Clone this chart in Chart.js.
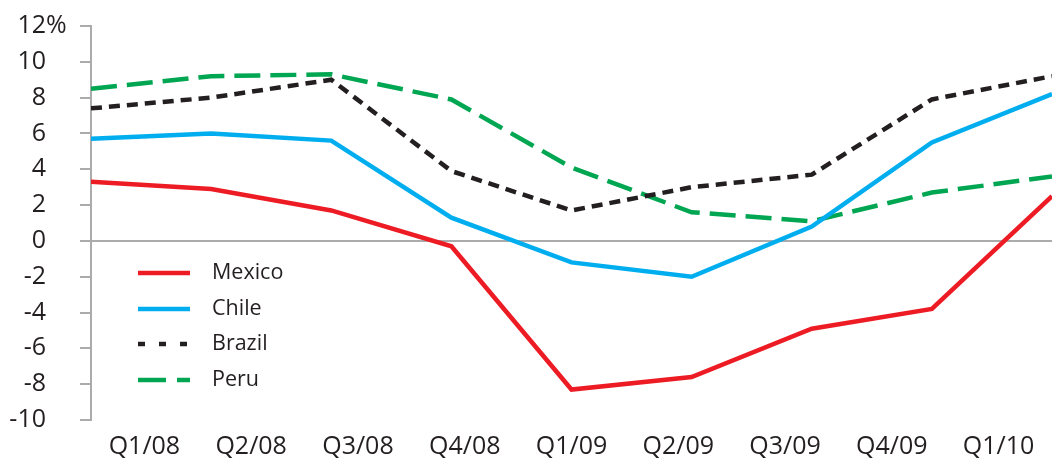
<!DOCTYPE html>
<html>
<head>
<meta charset="utf-8">
<script src="https://cdn.jsdelivr.net/npm/chart.js@4/dist/chart.umd.min.js"></script>
<style>
  html, body { margin: 0; padding: 0; background: #fff; }
  #wrap { width: 1052px; height: 462px; }
</style>
</head>
<body>
<div id="wrap"><canvas id="gdpChart"></canvas></div>
<script>
// quarters on the bottom axis
const quarters = ['Q1/08', 'Q2/08', 'Q3/08', 'Q4/08', 'Q1/09', 'Q2/09', 'Q3/09', 'Q4/09', 'Q1/10'];
// y ticks
const yMin = -10;
const yMax = 12;
const yStep = 2;

// values, % yoy
const mexico = [3.3, 2.9, 1.7, -0.3, -8.3, -7.6, -4.9, -3.8, 2.5];
const chile = [5.7, 6.0, 5.6, 1.3, -1.2, -2.0, 0.8, 5.5, 8.2];
const brazil = [7.4, 8.0, 9.0, 3.9, 1.7, 3.0, 3.7, 7.9, 9.2];
const peru = [8.5, 9.2, 9.3, 7.9, 4.1, 1.6, 1.1, 2.7, 3.6];

const textColor = '#231F20';
const axisGray = '#ABABAB';
const fontFamily = '"Open Sans", "Noto Sans", sans-serif';
const tickSize = 25;

function toPoints(values) {
    return values.map((v, i) => ({ x: i, y: v }));
}

// legend drawn inside the plot, lower left
const insideLegend = {
    id: 'insideLegend',
    afterDatasetsDraw(chart) {
        const ctx = chart.ctx;
        const rows = [273, 309, 344, 380];
        ctx.save();
        chart.data.datasets.forEach((ds, i) => {
            const y = rows[i];
            ctx.beginPath();
            ctx.strokeStyle = ds.borderColor;
            ctx.lineWidth = 4.5;
            ctx.setLineDash(ds.legendDash || []);
            ctx.moveTo(138, y);
            ctx.lineTo(190, y);
            ctx.stroke();
            ctx.setLineDash([]);
            ctx.fillStyle = textColor;
            ctx.font = '21.5px ' + fontFamily;
            ctx.textAlign = 'left';
            ctx.textBaseline = 'middle';
            ctx.fillText(ds.label, 212, y);
        });
        ctx.restore();
    }
};

// "%" sign after the top tick label
const percentSign = {
    id: 'percentSign',
    afterDraw(chart) {
        const ctx = chart.ctx;
        const y = chart.scales.y.getPixelForValue(yMax);
        ctx.save();
        ctx.fillStyle = textColor;
        ctx.font = tickSize + 'px ' + fontFamily;
        ctx.textAlign = 'left';
        ctx.textBaseline = 'middle';
        ctx.fillText('%', 46, y);
        ctx.restore();
    }
};

const ctx = document.getElementById('gdpChart').getContext('2d');
new Chart(ctx, {
    type: 'line',
    data: {
        labels: quarters,
        datasets: [
            { label: 'Mexico', data: toPoints(mexico), borderColor: '#ED1C24', borderWidth: 4.5 },
            { label: 'Chile', data: toPoints(chile), borderColor: '#00AEEF', borderWidth: 4.5 },
            { label: 'Brazil', data: toPoints(brazil), borderColor: '#231F20', borderWidth: 4.5,
              borderDash: [11, 7], legendDash: [7, 14] },
            { label: 'Peru', data: toPoints(peru), borderColor: '#00A651', borderWidth: 4.5,
              borderDash: [26, 10], legendDash: [28, 11] }
        ].map(ds => Object.assign(ds, {
            xAxisID: 'x',
            fill: false,
            tension: 0,
            pointRadius: 0,
            borderCapStyle: 'butt',
            borderJoinStyle: 'miter'
        }))
    },
    options: {
        responsive: true,
        maintainAspectRatio: false,
        animation: false,
        layout: { padding: { top: 26, right: 0, left: 0, bottom: 0 } },
        plugins: {
            legend: { display: false },
            tooltip: { enabled: false }
        },
        scales: {
            x: {
                type: 'linear',
                display: false,
                min: 0,
                max: quarters.length - 1
            },
            x2: {
                type: 'category',
                position: 'bottom',
                offset: true,
                grid: { display: false },
                border: { display: false },
                ticks: {
                    color: textColor,
                    font: { family: fontFamily, size: tickSize },
                    padding: 4,
                    maxRotation: 0,
                    autoSkip: false
                },
                afterFit(scale) {
                    scale.height = 42;
                    scale.paddingLeft = 0;
                    scale.paddingRight = 0;
                }
            },
            y: {
                min: yMin,
                max: yMax,
                ticks: {
                    stepSize: yStep,
                    color: textColor,
                    font: { family: fontFamily, size: tickSize },
                    padding: 34
                },
                grid: {
                    color: c => (c.tick && c.tick.value === 0) ? axisGray : 'rgba(0,0,0,0)',
                    tickColor: axisGray,
                    tickLength: 11,
                    lineWidth: 2
                },
                border: { color: axisGray, width: 2 },
                afterFit(scale) {
                    scale.width = 91;
                    // tick padding is horizontal here, keep it out of the vertical layout
                    scale.paddingTop = 0;
                    scale.paddingBottom = 0;
                }
            }
        }
    },
    plugins: [insideLegend, percentSign]
});
</script>
</body>
</html>
